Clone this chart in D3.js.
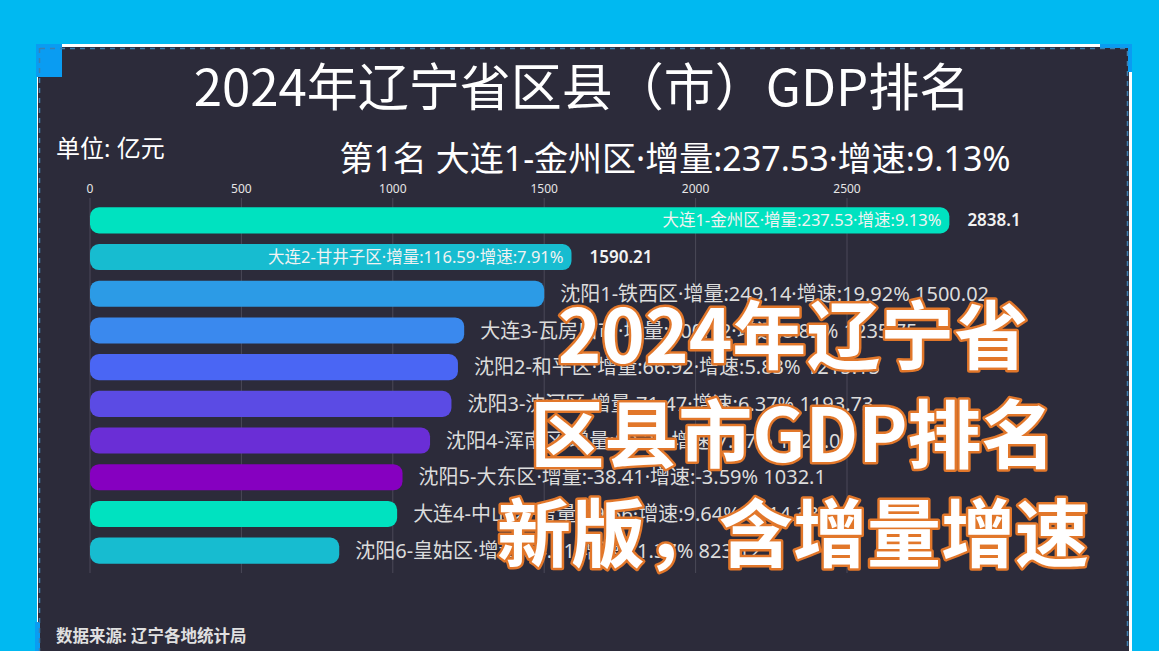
<!DOCTYPE html>
<html>
<head>
<meta charset="utf-8">
<script src="https://cdn.jsdelivr.net/npm/d3@7"></script>
<style>
  html, body { margin: 0; padding: 0; background: #00b9f1; }
  svg { display: block; }
</style>
</head>
<body>
<div id="graphic"></div>
<script>
// 2024 Liaoning districts, top 10 by GDP (unit: 100M yuan)
const names = ['大连1-金州区', '大连2-甘井子区', '沈阳1-铁西区', '大连3-瓦房店市', '沈阳2-和平区',
  '沈阳3-沈河区', '沈阳4-浑南区', '沈阳5-大东区', '大连4-中山区', '沈阳6-皇姑区'];
const gdp = [2838.1, 1590.21, 1500.02, 1235.75, 1215.15, 1193.73, 1123.04, 1032.1, 1014.33, 823.12];
const increase = [237.53, 116.59, 249.14, 100.12, 66.92, 71.47, 80.24, -38.41, 89.56, 84.21];
const growth = [9.13, 7.91, 19.92, 8.82, 5.83, 6.37, 7.27, -3.59, 9.64, 11.37];
const ticks = [0, 500, 1000, 1500, 2000, 2500];
const colors = ['#00e2c0', '#17bcd0', '#2c9be6', '#3a89ee', '#4a66f4', '#5b4be4', '#6a2ed6', '#8600c0', '#00e2c0', '#17bcd0'];
const insideCount = 2; // the widest bars carry their label inside

const width = 1159, height = 651;
const cjk = '"Noto Sans CJK SC", sans-serif';
const mixed = '"Noto Sans", "Noto Sans CJK SC", sans-serif';

const rows = names.map((n, i) => ({name: n, value: gdp[i], inc: increase[i], rate: growth[i], rank: i}));
const label = d => `${d.name}·增量:${d.inc}·增速:${d.rate}%`;

const svg = d3.select("#graphic")
  .append("svg")
  .attr("width", width)
  .attr("height", height)
  .attr("font-family", mixed);

// frame
svg.append("rect").attr("x", 37).attr("y", 44).attr("width", 1095).attr("height", 620).attr("fill", "#ffffff");
svg.append("rect").attr("x", 38).attr("y", 47).attr("width", 1091).attr("height", 610).attr("fill", "#2c2b3a");
svg.append("rect").attr("x", 36).attr("y", 44).attr("width", 26).attr("height", 33).attr("fill", "#0a9cf2");
svg.append("rect").attr("x", 1100).attr("y", 44).attr("width", 32).attr("height", 4).attr("fill", "#0a9cf2");
svg.append("rect").attr("x", 1128).attr("y", 44).attr("width", 4).attr("height", 28).attr("fill", "#0a9cf2");
svg.append("rect").attr("x", 35).attr("y", 622).attr("width", 5).attr("height", 30).attr("fill", "#0a9cf2");
svg.append("path")
  .attr("d", "M40,48.5H1127.5V651 M39.5,48V651")
  .attr("fill", "none")
  .attr("stroke", "#3d7fb0")
  .attr("stroke-width", 1.5)
  .attr("stroke-dasharray", "5,5");

const x = d3.scaleLinear()
  .domain([0, 2500])
  .range([90, 847]);

const y = d3.scaleBand()
  .domain(names)
  .range([202, 569])
  .paddingInner(0.29)
  .paddingOuter(0.145);

// grid + tick labels
const grid = svg.append("g");
grid.selectAll("line")
  .data(ticks)
  .join("line")
    .attr("x1", d => x(d)).attr("x2", d => x(d))
    .attr("y1", 198).attr("y2", 573)
    .attr("stroke", "#4a4958")
    .attr("stroke-width", 1);
grid.selectAll("text")
  .data(ticks)
  .join("text")
    .attr("x", d => x(d))
    .attr("y", 193)
    .attr("text-anchor", "middle")
    .attr("font-size", 12)
    .attr("fill", "#e6e6e6")
    .text(d => d);

// bars
svg.append("g")
  .selectAll("rect")
  .data(rows)
  .join("rect")
    .attr("x", x(0))
    .attr("y", d => y(d.name))
    .attr("width", d => x(d.value) - x(0))
    .attr("height", y.bandwidth())
    .attr("rx", 9)
    .attr("fill", (d, i) => colors[i]);

// labels inside the wide bars
const inside = rows.filter(d => d.rank < insideCount);
svg.append("g")
  .selectAll("text")
  .data(inside)
  .join("text")
    .attr("x", d => x(d.value) - 8)
    .attr("y", d => y(d.name) + y.bandwidth() / 2)
    .attr("dy", "0.36em")
    .attr("text-anchor", "end")
    .attr("font-size", 16.5)
    .attr("fill", "#f2f2f2")
    .text(label);
svg.append("g")
  .selectAll("text")
  .data(inside)
  .join("text")
    .attr("x", d => x(d.value) + 18)
    .attr("y", d => y(d.name) + y.bandwidth() / 2)
    .attr("dy", "0.36em")
    .attr("font-size", 17)
    .attr("font-weight", 600)
    .attr("fill", "#f2f2f2")
    .text(d => d.value);

// labels after the other bars
svg.append("g")
  .selectAll("text")
  .data(rows.filter(d => d.rank >= insideCount))
  .join("text")
    .attr("x", d => x(d.value) + 16)
    .attr("y", d => y(d.name) + y.bandwidth() / 2)
    .attr("dy", "0.36em")
    .attr("font-size", 20)
    .attr("fill", "#dcdcdc")
    .text(d => label(d) + ' ' + d.value);

// titles
svg.append("text")
  .attr("x", 582).attr("y", 106)
  .attr("text-anchor", "middle")
  .attr("font-family", cjk)
  .attr("font-size", 51)
  .attr("fill", "#ffffff")
  .text("2024年辽宁省区县（市）GDP排名");

const leader = rows[0];
svg.append("text")
  .attr("x", 675).attr("y", 171)
  .attr("text-anchor", "middle")
  .attr("font-size", 34)
  .attr("fill", "#ffffff")
  .text(`第1名 ${label(leader)}`);

svg.append("text")
  .attr("x", 56).attr("y", 157)
  .attr("font-size", 24)
  .attr("fill", "#ffffff")
  .text("单位: 亿元");

svg.append("text")
  .attr("x", 56).attr("y", 642)
  .attr("font-size", 16.5)
  .attr("font-weight", "bold")
  .attr("fill", "#e0e0e0")
  .text("数据来源: 辽宁各地统计局");

// big cover caption
const cover = ['2024年辽宁省', '区县市GDP排名', '新版，含增量增速'];
const cap = svg.append("g")
  .attr("font-family", cjk)
  .attr("font-size", 74)
  .attr("font-weight", "bold")
  .attr("text-anchor", "middle");
cap.selectAll("text")
  .data(cover)
  .join("text")
    .attr("x", 793)
    .attr("y", (d, i) => 363 + i * 99)
    .attr("fill", "#ffffff")
    .attr("stroke", "#e2772a")
    .attr("stroke-width", 5)
    .attr("paint-order", "stroke")
    .attr("stroke-linejoin", "round")
    .text(d => d);
</script>
</body>
</html>
